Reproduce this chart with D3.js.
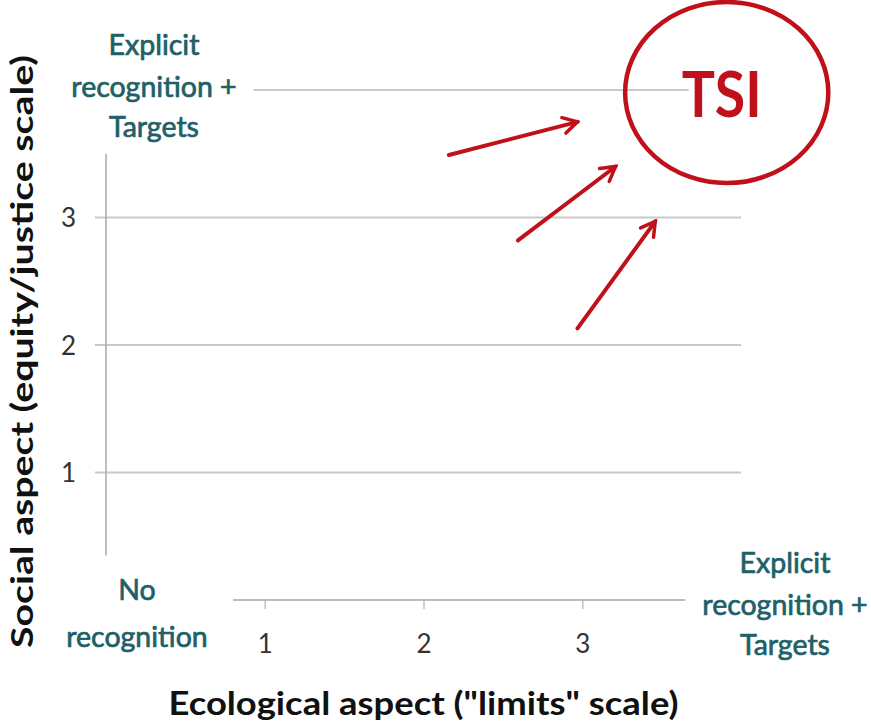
<!DOCTYPE html>
<html><head><meta charset="utf-8">
<script src="https://cdn.jsdelivr.net/npm/d3@7"></script>
<style>html,body{margin:0;padding:0;background:#fff;}</style>
</head><body>
<svg id="chart" width="871" height="726"></svg>
<script>
// Data
const xTicks = [1, 2, 3];
const yTicks = [1, 2, 3];
const gridValues = [1, 2, 3, 4];
const levelLabels = ["Explicit", "recognition +", "Targets"];
const originLabels = ["No", "recognition"];
const xTitle = 'Ecological aspect ("limits" scale)';
const yTitle = "Social aspect (equity/justice scale)";
const targetLabel = "TSI";
const targetCenter = [3.91, 3.98];
const targetRadius = [0.64, 0.71];
const arrowStarts = [[2.16, 3.49], [2.595, 2.82], [2.97, 2.13]];
const arrowEnds = [[2.97, 3.75], [3.21, 3.40], [3.46, 2.97]];

const svg = d3.select("#chart");
const x = d3.scaleLinear().domain([0, 4]).range([106, 741]);
const y = d3.scaleLinear().domain([0, 4]).range([600, 90]);
const teal = "#215f69";
const red = "#c0111b";
const font = "Lato, 'Open Sans', sans-serif";

// gridlines
svg.append("g").selectAll("line").data(gridValues).join("line")
  .attr("x1", d => d === 4 ? x(0.93) : x(-0.07))
  .attr("x2", d => d === 4 ? x(3.67) : x(4))
  .attr("y1", d => y(d)).attr("y2", d => y(d))
  .attr("stroke", "#c9c9c9").attr("stroke-width", 2);

// y axis line
svg.append("line")
  .attr("x1", x(0)).attr("x2", x(0))
  .attr("y1", y(0.35)).attr("y2", y(3.5))
  .attr("stroke", "#a8a8a8").attr("stroke-width", 1.5);

// x axis
const xAxis = d3.axisBottom(x).tickValues(xTicks).tickSize(9).tickPadding(26).tickFormat(d3.format("d"));
const gx = svg.append("g").attr("transform", `translate(0,${y(0)})`).call(xAxis);
gx.select(".domain").remove();
gx.selectAll(".tick line").attr("stroke", "#c0c0c0").attr("stroke-width", 1.5);
gx.selectAll(".tick text").attr("font-family", font).attr("font-size", 26).attr("fill", "#333");
svg.append("line")
  .attr("x1", x(0.8)).attr("x2", x(3.65))
  .attr("y1", y(0)).attr("y2", y(0))
  .attr("stroke", "#a8a8a8").attr("stroke-width", 1.5);

// y axis tick labels
const yAxis = d3.axisLeft(y).tickValues(yTicks).tickSize(0).tickPadding(30).tickFormat(d3.format("d"));
const gy = svg.append("g").attr("transform", `translate(${x(0)},0)`).call(yAxis);
gy.select(".domain").remove();
gy.selectAll(".tick text").attr("font-family", font).attr("font-size", 26).attr("fill", "#333").attr("dy", "0.35em");

// level labels
function block(cx, baseYs, lines) {
  const t = svg.append("text").attr("text-anchor", "middle")
    .attr("font-family", font).attr("font-size", 28.5).attr("fill", teal)
    .attr("stroke", teal).attr("stroke-width", 0.7);
  lines.forEach((s, i) => t.append("tspan").attr("x", cx).attr("y", baseYs[i]).text(s));
}
block(154, [55, 97, 137], levelLabels);
block(785, [573, 615, 655], levelLabels);
block(137, [600, 647], originLabels);

// axis titles
svg.append("text").attr("x", x(2)).attr("y", 715).attr("text-anchor", "middle")
  .attr("font-family", font).attr("font-size", 33).attr("font-weight", 700).attr("fill", "#111")
  .attr("textLength", 510).attr("lengthAdjust", "spacingAndGlyphs").text(xTitle);
svg.append("text").attr("transform", `translate(33,${(55 + 648) / 2}) rotate(-90)`).attr("text-anchor", "middle")
  .attr("font-family", font).attr("font-size", 31).attr("font-weight", 700).attr("fill", "#111")
  .attr("textLength", 593).attr("lengthAdjust", "spacingAndGlyphs").text(yTitle);

// arrows
const defs = svg.append("defs");
defs.append("marker").attr("id", "arr").attr("markerUnits", "userSpaceOnUse")
  .attr("viewBox", "0 0 20 20").attr("refX", 17).attr("refY", 10)
  .attr("markerWidth", 20).attr("markerHeight", 20).attr("orient", "auto")
  .append("path").attr("d", "M3,2 L17,10 L3,18").attr("fill", "none")
  .attr("stroke", red).attr("stroke-width", 3.5).attr("stroke-linecap", "round");
svg.append("g").selectAll("line").data(arrowStarts).join("line")
  .attr("x1", d => x(d[0])).attr("y1", d => y(d[1]))
  .attr("x2", (d, i) => x(arrowEnds[i][0])).attr("y2", (d, i) => y(arrowEnds[i][1]))
  .attr("stroke", red).attr("stroke-width", 4).attr("stroke-linecap", "round")
  .attr("marker-end", "url(#arr)");

// TSI circle
svg.append("ellipse")
  .attr("cx", x(targetCenter[0])).attr("cy", y(targetCenter[1]))
  .attr("rx", x(targetRadius[0]) - x(0)).attr("ry", y(0) - y(targetRadius[1]))
  .attr("fill", "none").attr("stroke", red).attr("stroke-width", 4.5);
svg.append("text").attr("x", x(targetCenter[0]) - 5).attr("y", 117).attr("text-anchor", "middle")
  .attr("font-family", font).attr("font-size", 64).attr("font-weight", 700).attr("fill", red)
  .attr("textLength", 80).attr("lengthAdjust", "spacingAndGlyphs").text(targetLabel);
</script>
</body></html>
